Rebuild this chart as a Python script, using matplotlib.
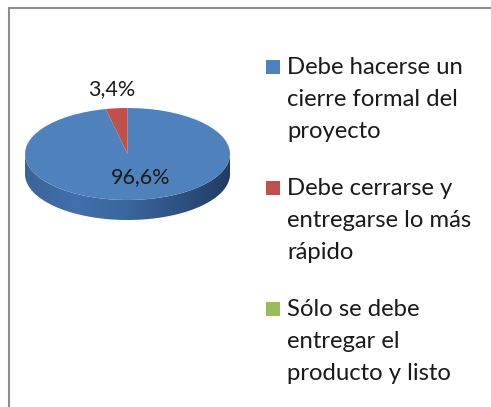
import numpy as np
import matplotlib
matplotlib.use('Agg')
import matplotlib.pyplot as plt
from matplotlib.patches import Rectangle, Polygon
from matplotlib.colors import LinearSegmentedColormap

plt.rcParams['font.family'] = ['Lato', 'DejaVu Sans']

# data
labels = ['Debe hacerse un\ncierre formal del\nproyecto',
          'Debe cerrarse y\nentregarse lo más\nrápido',
          'Sólo se debe\nentregar el\nproducto y listo']
values = [96.6, 3.4, 0.0]
colors = ['#4F81BD', '#C0504D', '#9BBB59']

W, H = 491, 407
FS = 17.2
FS_PCT = 15.5
fig = plt.figure(figsize=(W / 100, H / 100), dpi=100)


def fx(px):
    return px / W


def fy(py):
    return 1 - py / H


# chart border (runs off the right and bottom edge)
fig.add_artist(Rectangle((fx(9), fy(520)), 600 / W, (520 - 8) / H, fill=False,
                         ec='#8c8c8c', lw=1.5, transform=fig.transFigure))

# pie drawn as a flattened ellipse with a side band for depth
cx, cy, a, b, depth, m = 127.5, 154, 102.5, 46, 20, 4
ax = fig.add_axes([fx(cx - a - m), fy(cy + b + depth + m),
                   (2 * a + 2 * m) / W, (2 * b + depth + 2 * m) / H])
wedges, _ = ax.pie(values, colors=colors, startangle=90, counterclock=False,
                   radius=1, wedgeprops=dict(lw=0))
for w in wedges:
    w.set_zorder(3)
ax.set_aspect('auto')
ax.set_xlim(-(a + m) / a, (a + m) / a)
ax.set_ylim(-(b + depth + m) / b, (b + m) / b)
ax.axis('off')

d = depth / b
th = np.linspace(np.pi, 2 * np.pi, 200)
top = np.column_stack([np.cos(th), np.sin(th)])
bot = np.column_stack([np.cos(th[::-1]), np.sin(th[::-1]) - d])
side = Polygon(np.vstack([top, bot]), closed=True, fc='none', ec='none')
ax.add_patch(side)
side_cmap = LinearSegmentedColormap.from_list(
    'side', ['#3a6499', '#4170aa', '#3a659d', '#2e5283', '#203c62'])
grad = np.linspace(0, 1, 256).reshape(1, -1)
img = ax.imshow(grad, cmap=side_cmap, extent=(-1, 1, -1 - d, 0.05),
                aspect='auto', zorder=2)
img.set_clip_path(side)


def pct(v):
    return f'{v:.1f}'.replace('.', ',') + '%'


ax.text(0.13, -0.51, pct(values[0]), fontsize=FS_PCT, ha='center', va='center',
        color='#1a1a1a', zorder=5)
ax.text(-0.15, 1.42, pct(values[1]), fontsize=FS_PCT, ha='center', va='center',
        color='#1a1a1a', zorder=5, clip_on=False)

# legend
for k, (lab, col) in enumerate(zip(labels, colors)):
    base = 74 + k * 121
    fig.add_artist(Rectangle((fx(266), fy(base)), 14 / W, 14 / H,
                             fc=col, ec='none', transform=fig.transFigure))
    for i, line in enumerate(lab.split('\n')):
        fig.text(fx(287), fy(base + i * 32), line, fontsize=FS,
                 va='baseline', ha='left', color='#1a1a1a')

fig.savefig('out.png', dpi=100)
